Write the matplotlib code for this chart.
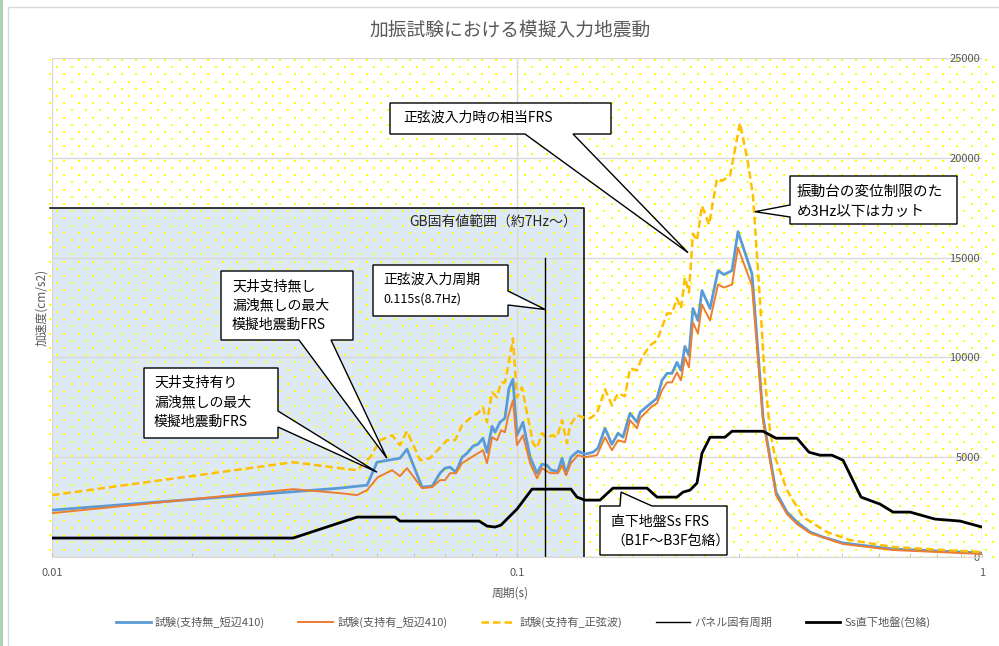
import numpy as np
import matplotlib
matplotlib.use('Agg')
import matplotlib.pyplot as plt
from matplotlib.patches import Rectangle, Polygon

plt.rcParams['font.family'] = ['Noto Sans CJK JP', 'DejaVu Sans']

################################## DATA ##################################

title = '加振試験における模擬入力地震動'

# 試験(支持無_短辺410)
period_nashi = [0.0100, 0.0416, 0.0476, 0.0500, 0.0560, 0.0580, 0.0625, 0.0657, 0.0683, 0.0700,
                0.0718, 0.0739, 0.0762, 0.0781, 0.0804, 0.0824, 0.0845, 0.0862, 0.0884, 0.0897,
                0.0919, 0.0942, 0.0961, 0.0980, 0.1000, 0.1030, 0.1067, 0.1104, 0.1132, 0.1160,
                0.1184, 0.1225, 0.1250, 0.1275, 0.1306, 0.1352, 0.1401, 0.1457, 0.1493, 0.1546,
                0.1600, 0.1649, 0.1690, 0.1750, 0.1812, 0.1839, 0.1951, 0.2000, 0.2050, 0.2102,
                0.2154, 0.2208, 0.2252, 0.2297, 0.2343, 0.2390, 0.2450, 0.2499, 0.2601, 0.2706,
                0.2787, 0.2900, 0.2987, 0.3201, 0.3381, 0.3606, 0.3807, 0.4001, 0.4267, 0.4550,
                0.5025, 0.6438, 1.0]
acc_nashi = [2350, 3450, 3600, 4750, 4950, 5400, 3500, 3550, 4200, 4450,
             4500, 4250, 5000, 5200, 5550, 5650, 5950, 5250, 6550, 6250,
             6750, 6950, 8450, 8900, 6100, 6750, 5000, 4200, 4650, 4600,
             4350, 4300, 4950, 4150, 5000, 5300, 5150, 5250, 5450, 6450,
             5650, 6200, 6000, 7200, 6750, 7250, 7750, 7950, 8850, 9200,
             9200, 9750, 9350, 10550, 10100, 12450, 11850, 13350, 12450, 14350,
             14150, 14350, 16300, 14200, 7000, 3250, 2250, 1750, 1250, 1000,
             700, 400, 200]

# 試験(支持有_短辺410)
period_ari = [0.0100, 0.0330, 0.0416, 0.0453, 0.0476, 0.0502, 0.0539, 0.0560, 0.0580, 0.0625,
              0.0657, 0.0683, 0.0700, 0.0718, 0.0739, 0.0762, 0.0792, 0.0824, 0.0845, 0.0862,
              0.0884, 0.0906, 0.0924, 0.0942, 0.0956, 0.0980, 0.1000, 0.1030, 0.1067, 0.1104,
              0.1132, 0.1178, 0.1225, 0.1250, 0.1275, 0.1306, 0.1352, 0.1401, 0.1486, 0.1546,
              0.1600, 0.1649, 0.1707, 0.1750, 0.1812, 0.1839, 0.1951, 0.2000, 0.2050, 0.2102,
              0.2154, 0.2208, 0.2252, 0.2297, 0.2343, 0.2390, 0.2450, 0.2499, 0.2601, 0.2706,
              0.2787, 0.2900, 0.2987, 0.3201, 0.3381, 0.3606, 0.3807, 0.4001, 0.4267, 0.5025,
              0.6438, 1.0]
acc_ari = [2200, 3400, 3200, 3100, 3350, 4000, 4350, 4050, 4450, 3450,
           3500, 3850, 3850, 4200, 4200, 4700, 4950, 5200, 5350, 4700,
           6000, 5850, 6350, 6250, 7000, 7850, 5600, 6100, 4700, 3950,
           4450, 4200, 4200, 4600, 4100, 4700, 5100, 5000, 5100, 6000,
           5350, 5850, 5750, 6850, 6450, 6950, 7550, 7700, 8350, 8750,
           8750, 9250, 8850, 10000, 9500, 11750, 11200, 12650, 11850, 13650,
           13500, 13650, 15500, 13600, 6850, 3100, 2150, 1650, 1200, 650,
           350, 150]

# 試験(支持有_正弦波)
period_sine = [0.0100, 0.0330, 0.0416, 0.0453, 0.0483, 0.0508, 0.0539, 0.0560, 0.0580, 0.0619,
               0.0650, 0.0707, 0.0736, 0.0762, 0.0792, 0.0824, 0.0845, 0.0862, 0.0884, 0.0906,
               0.0924, 0.0942, 0.0956, 0.0980, 0.1000, 0.1025, 0.1051, 0.1083, 0.1104, 0.1132,
               0.1160, 0.1190, 0.1219, 0.1250, 0.1281, 0.1300, 0.1346, 0.1387, 0.1436, 0.1486,
               0.1546, 0.1600, 0.1649, 0.1707, 0.1750, 0.1812, 0.1857, 0.1932, 0.2000, 0.2050,
               0.2102, 0.2154, 0.2208, 0.2252, 0.2297, 0.2343, 0.2390, 0.2438, 0.2499, 0.2588,
               0.2692, 0.2760, 0.2871, 0.3017, 0.3139, 0.3217, 0.3331, 0.3414, 0.3500, 0.3588,
               0.3807, 0.4122, 0.4642, 0.5202, 0.6438, 0.8243, 1.0]
acc_sine = [3100, 4750, 4450, 4350, 5000, 5850, 6100, 5600, 6300, 4850,
            4950, 5850, 5850, 6600, 6950, 7200, 7500, 6750, 8250, 8000,
            8750, 8750, 9500, 10950, 8000, 8500, 7200, 5700, 5450, 6200,
            5950, 6100, 6000, 6850, 5700, 6600, 7100, 7000, 6950, 7200,
            8400, 7600, 8200, 8050, 9450, 9350, 10000, 10600, 10850, 11500,
            12200, 12200, 12950, 12450, 14000, 13250, 16200, 15850, 17600, 16650,
            18950, 18850, 19100, 21750, 19750, 18100, 12850, 8850, 6350, 5000,
            3350, 2000, 1250, 850, 500, 350, 250]

# パネル固有周期
period_panel = [0.115, 0.115]
acc_panel = [0, 15000]

# Ss直下地盤(包絡)
period_ss = [0.0100, 0.0330, 0.0453, 0.0547, 0.0560, 0.0829, 0.0862, 0.0897, 0.0924, 0.0956,
             0.1000, 0.1077, 0.1306, 0.1346, 0.1401, 0.1508, 0.1608, 0.1904, 0.2000, 0.2208,
             0.2275, 0.2355, 0.2438, 0.2499, 0.2601, 0.2801, 0.2900, 0.3381, 0.3606, 0.4001,
             0.4246, 0.4483, 0.4758, 0.5025, 0.5494, 0.6035, 0.6438, 0.7002, 0.7924, 0.8970,
             1.0]
acc_ss = [950, 950, 2000, 2000, 1800, 1800, 1550, 1500, 1600, 1950,
          2400, 3400, 3400, 3000, 2850, 2850, 3450, 3450, 3000, 3000,
          3250, 3350, 3700, 5200, 6000, 6000, 6300, 6300, 5950, 5950,
          5250, 5100, 5100, 4850, 3000, 2650, 2250, 2250, 1900, 1800,
          1500]

series_labels = ['試験(支持無_短辺410)', '試験(支持有_短辺410)', '試験(支持有_正弦波)',
                 'パネル固有周期', 'Ss直下地盤(包絡)']

x_ticks = [0.01, 0.1, 1]
x_ticklabels = ['0.01', '0.1', '1']
y_ticks = [0, 5000, 10000, 15000, 20000, 25000]

# GB natural frequency range (period up to ~7Hz)
gb_period = 0.139
gb_top = 17500

################################## FIGURE ##################################

W, H = 999, 646
fig = plt.figure(figsize=(W / 100, H / 100), dpi=100)
fig.patch.set_facecolor('white')

def fx(x):
    return x / W

def fy(y):
    return 1 - y / H

ax = fig.add_axes([fx(52), fy(557), (982 - 52) / W, (557 - 58) / H])
ax.set_xscale('log')

gray = '#595959'
grid_c = '#d9d9d9'

# light blue GB range box
ax.add_patch(Rectangle((0.01, 0), gb_period - 0.01, gb_top, facecolor='#dde9f5',
                       edgecolor='none', zorder=0.2))
ax.plot([0.0099, gb_period, gb_period], [gb_top, gb_top, 0], color='black', lw=1.1,
        zorder=0.6, clip_on=False)

# yellow dot texture
dx, dy = [], []
for i, yy in enumerate(np.arange(60, 557, 7.2)):
    xs = np.arange(50 + (i % 2) * 7.2, 999, 14.4)
    dx.extend(xs)
    dy.extend([yy] * len(xs))
ax.scatter(fx(np.array(dx)), fy(np.array(dy)), transform=fig.transFigure, s=2.0,
           marker='s', c='#ffff00', linewidths=0, zorder=0.3, clip_on=False)

# series
l1, = ax.plot(period_nashi, acc_nashi, color='#5b9bd5', lw=2.0, zorder=2)
l2, = ax.plot(period_ari, acc_ari, color='#ed7d31', lw=1.4, zorder=2.1)
l3, = ax.plot(period_sine, acc_sine, color='#ffc000', lw=1.8, dashes=(3, 1.6), zorder=2.2)
l4, = ax.plot(period_panel, acc_panel, color='black', lw=1.0, zorder=2.3)
l5, = ax.plot(period_ss, acc_ss, color='black', lw=2.0, zorder=2.4)

ax.set_xlim(0.01, 1)
ax.set_ylim(0, 25000)

# axes styling
ax.set_axisbelow(True)
ax.grid(True, which='major', color=grid_c, lw=1.0)
for s in ['top', 'left', 'right']:
    ax.spines[s].set_visible(False)
ax.spines['bottom'].set_color(grid_c)
ax.set_xticks(x_ticks, x_ticklabels)
ax.tick_params(axis='x', which='both', direction='in', length=3, color='#bfbfbf',
               labelsize=8, labelcolor=gray, pad=8)
ax.set_yticks(y_ticks, [str(v) for v in y_ticks])
ax.tick_params(axis='y', which='both', left=False, right=False, labelleft=False,
               labelright=True, labelsize=8, labelcolor=gray, pad=-5)
for lbl in ax.get_yticklabels():
    lbl.set_horizontalalignment('right')

fig.text(fx(510), fy(30), title, ha='center', va='center', fontsize=13.5, color=gray)
fig.text(fx(510), fy(593), '周期(s)', ha='center', va='center', fontsize=8.5, color=gray)
fig.text(fx(42), fy(307), '加速度(cm/s2)', ha='center', va='center', rotation=90,
         fontsize=8.5, color=gray)

ax.text(fx(577), fy(222), 'GB固有値範囲（約7Hz～）', transform=fig.transFigure,
        ha='right', va='center', fontsize=10, color='#262626', zorder=4)

################################## CALLOUTS ##################################

def callout(box, side, a, b, tip, lines, tx, ty, fs=10):
    x0, y0, x1, y1 = box
    p = ax.transData.transform(tip)
    tip_px = (p[0], H - p[1])
    if side == 'top':
        pts = [(x0, y0), (a, y0), tip_px, (b, y0), (x1, y0), (x1, y1), (x0, y1)]
    elif side == 'right':
        pts = [(x0, y0), (x1, y0), (x1, a), tip_px, (x1, b), (x1, y1), (x0, y1)]
    elif side == 'bottom':
        pts = [(x0, y0), (x1, y0), (x1, y1), (b, y1), tip_px, (a, y1), (x0, y1)]
    else:
        pts = [(x0, y0), (x1, y0), (x1, y1), (x0, y1), (x0, b), tip_px, (x0, a)]
    verts = [(fx(x), fy(y)) for x, y in pts]
    ax.add_patch(Polygon(verts, closed=True, transform=fig.transFigure, facecolor='white',
                         edgecolor='black', lw=1.0, zorder=5, clip_on=False))
    for line, yy in zip(lines, ty):
        ax.text(fx(tx), fy(yy), line, transform=fig.transFigure, ha='left', va='center',
                fontsize=fs, color='black', zorder=6)

callout((144, 368, 278, 438), 'right', 411, 427, (0.0500, 4250),
        ['天井支持有り', '漏洩無しの最大', '模擬地震動FRS'], 154, [383, 402, 422])
callout((221, 271, 353, 340), 'bottom', 299, 331, (0.0525, 4950),
        ['天井支持無し', '漏洩無しの最大', '模擬地震動FRS'], 232, [286, 305, 325])
callout((373, 265, 508, 316), 'right', 291, 305, (0.115, 12400),
        ['正弦波入力周期'], 383, [280])
ax.text(fx(383), fy(299), '0.115s(8.7Hz)', transform=fig.transFigure, ha='left',
        va='center', fontsize=9, color='black', zorder=6)
callout((390, 103, 611, 134), 'bottom', 525, 573, (0.2332, 15250),
        ['正弦波入力時の相当FRS'], 403, [118])
callout((790, 176, 957, 224), 'left', 205, 217, (0.3249, 17300),
        ['振動台の変位制限のた', 'め3Hz以下はカット'], 797, [192, 212], fs=10.5)
callout((600, 506, 727, 555), 'top', 620, 652, (0.1674, 3250),
        ['直下地盤Ss FRS', '（B1F～B3F包絡）'], 611, [522, 542])

################################## LEGEND / FRAME ##################################

fig.legend(handles=[l1, l2, l3, l4, l5], labels=series_labels, loc='center',
           bbox_to_anchor=(0.524, fy(622)), ncol=5, frameon=False, fontsize=8,
           handlelength=3.1, handletextpad=0.4, columnspacing=3.0, labelcolor=gray)

fig.add_artist(Rectangle((fx(8), -0.1), 1.2, fy(7) + 0.1, transform=fig.transFigure,
                         fill=False, edgecolor=grid_c, lw=1.0))
fig.add_artist(Rectangle((0, 0), fx(2.5), 1, transform=fig.transFigure,
                         facecolor='#a9d5b0', edgecolor='none'))

fig.savefig('out.png', dpi=100)
